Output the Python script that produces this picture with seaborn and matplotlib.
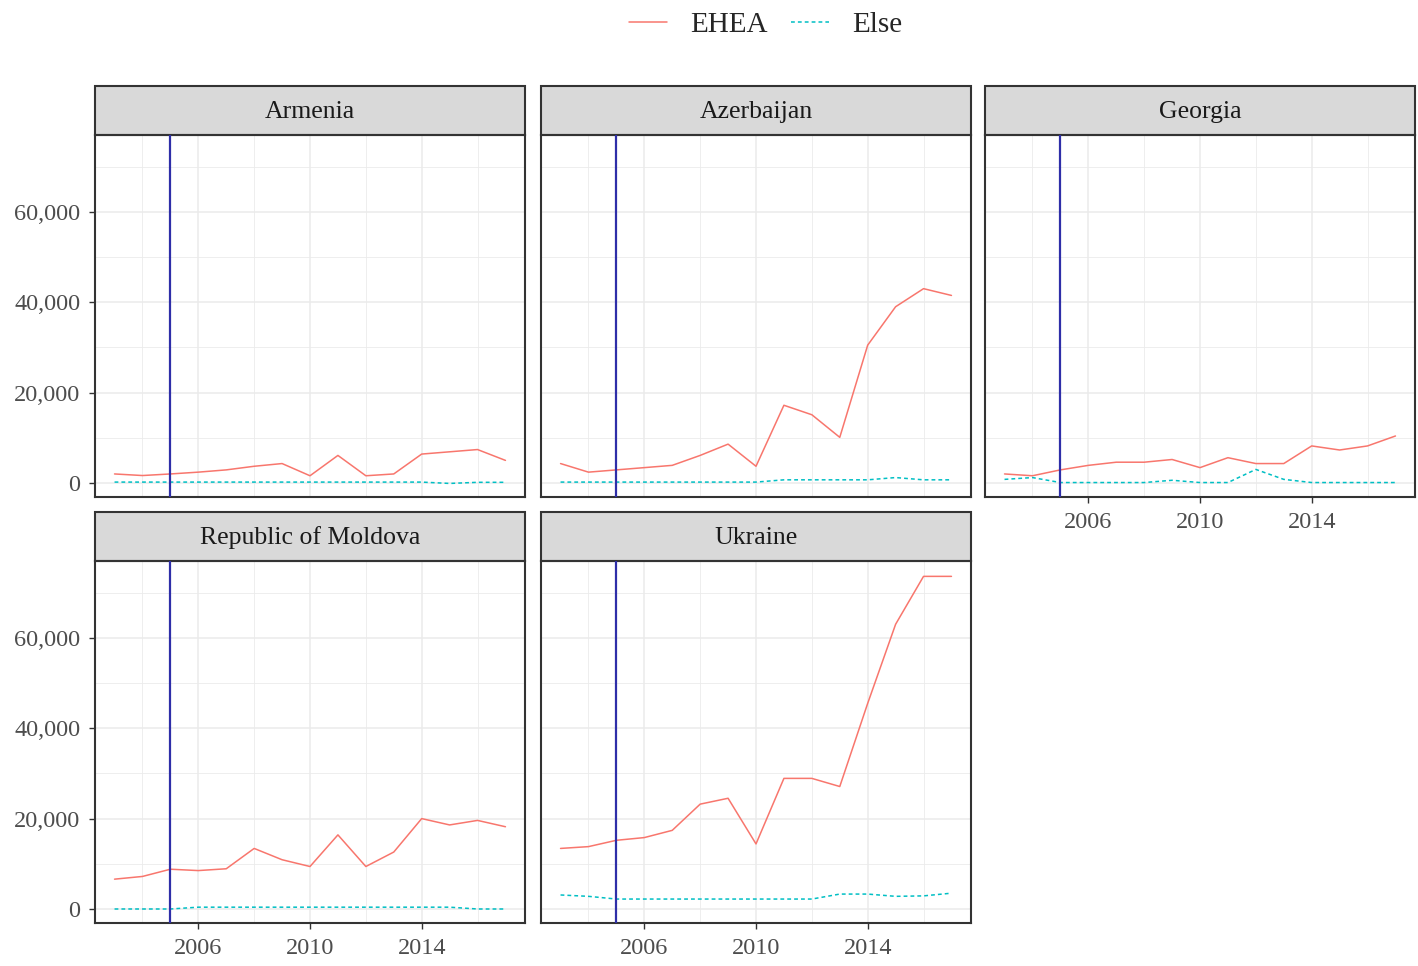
import numpy as np
import pandas as pd
import matplotlib.pyplot as plt
import seaborn as sb
from matplotlib.lines import Line2D
from matplotlib.patches import Rectangle
from matplotlib.ticker import FuncFormatter

years = list(range(2003, 2018))
countries = ["Armenia", "Azerbaijan", "Georgia", "Republic of Moldova", "Ukraine"]

# students abroad, EHEA destinations vs elsewhere
armenia_ehea = [2000, 1650, 2000, 2400, 2900, 3700, 4300, 1600, 6100, 1600, 2000, 6400, 6900, 7400, 5000]
armenia_else = [200, 200, 200, 200, 200, 200, 200, 200, 200, 200, 200, 200, -100, 150, 150]
azerbaijan_ehea = [4300, 2400, 2900, 3400, 3900, 6100, 8600, 3700, 17200, 15100, 10100, 30500, 39000, 43000, 41500]
azerbaijan_else = [200, 200, 200, 200, 200, 200, 200, 200, 700, 700, 700, 700, 1200, 700, 700]
georgia_ehea = [2000, 1600, 2900, 3900, 4600, 4600, 5200, 3400, 5600, 4300, 4300, 8200, 7300, 8200, 10400]
georgia_else = [800, 1200, 100, 100, 100, 100, 600, 100, 100, 3000, 800, 100, 100, 100, 100]
moldova_ehea = [6600, 7200, 8800, 8500, 8900, 13400, 10900, 9400, 16400, 9400, 12600, 20000, 18600, 19600, 18200]
moldova_else = [0, 0, 0, 400, 400, 400, 400, 400, 400, 400, 400, 400, 400, 0, 0]
ukraine_ehea = [13400, 13800, 15200, 15800, 17400, 23200, 24500, 14400, 28900, 28900, 27100, 45500, 63000, 73600, 73600]
ukraine_else = [3100, 2800, 2200, 2200, 2200, 2200, 2200, 2200, 2200, 2200, 3300, 3300, 2800, 2900, 3500]

ehea = [armenia_ehea, azerbaijan_ehea, georgia_ehea, moldova_ehea, ukraine_ehea]
other = [armenia_else, azerbaijan_else, georgia_else, moldova_else, ukraine_else]

rows = []
for c, e, o in zip(countries, ehea, other):
    for y, v1, v2 in zip(years, e, o):
        rows.append((c, y, "EHEA", v1))
        rows.append((c, y, "Else", v2))
df = pd.DataFrame(rows, columns=["country", "year", "type", "students"])

sb.set_theme(style="white")
plt.rcParams['font.family'] = ['Liberation Serif', 'DejaVu Serif']

red = "#F8766D"
cyan = "#00BFC4"
dark = "#333333"

g = sb.relplot(data=df, x="year", y="students", col="country", col_wrap=3,
               hue="type", style="type", kind="line", col_order=countries,
               palette={"EHEA": red, "Else": cyan},
               dashes={"EHEA": "", "Else": (2.5, 2)},
               linewidth=1.1, legend=False, height=3, aspect=1.2)
fig = g.figure
fig.set_size_inches(14.18, 9.66)
fig.set_dpi(100)

W, H = 1418, 966
col_x = [95, 541, 985]
row_bottom = [497, 923]
pw, ph = 430, 362
strip_h = 49 / ph

for i, ax in enumerate(g.axes.flat):
    r, c = divmod(i, 3)
    ax.set_position([col_x[c] / W, 1 - row_bottom[r] / H, pw / W, ph / H])
    ax.set_xlim(2002.3, 2017.7)
    ax.set_ylim(-3100, 77000)
    ax.set_xticks([2006, 2010, 2014])
    ax.set_xticks([2004, 2008, 2012, 2016], minor=True)
    ax.set_yticks([0, 20000, 40000, 60000])
    ax.set_yticks([10000, 30000, 50000, 70000], minor=True)
    ax.yaxis.set_major_formatter(FuncFormatter(lambda v, p: f"{int(v):,}"))
    ax.grid(True, which="major", color="#EBEBEB", linewidth=1.1)
    ax.grid(True, which="minor", color="#EBEBEB", linewidth=0.6)
    ax.set_axisbelow(True)
    ax.axvline(2005, color="#2E2EA8", linewidth=1.6, zorder=3)
    for s in ax.spines.values():
        s.set_color(dark)
        s.set_linewidth(1.5)
        s.set_visible(True)
    show_x = (r == 1) or (c == 2)
    show_y = (c == 0)
    ax.tick_params(which="major", length=4.5, width=1, color=dark,
                   labelsize=17.5, labelcolor="#4D4D4D", pad=6,
                   bottom=show_x, left=show_y,
                   labelbottom=show_x, labelleft=show_y)
    ax.tick_params(which="minor", length=0)
    ax.set_xlabel("")
    ax.set_ylabel("")
    ax.set_title("")
    # facet strip
    ax.add_patch(Rectangle((0, 1), 1, strip_h, transform=ax.transAxes,
                           facecolor="#D9D9D9", edgecolor=dark, linewidth=1.5,
                           clip_on=False))
    ax.text(0.5, 1 + strip_h / 2 - 0.004, countries[i], transform=ax.transAxes,
            ha="center", va="center", fontsize=18.5, color="#1A1A1A")

handles = [Line2D([], [], color=red, linewidth=1.1),
           Line2D([], [], color=cyan, linewidth=1.1, dashes=(2.5, 2))]
fig.legend(handles, ["EHEA", "Else"], loc="center", bbox_to_anchor=(0.54, 1 - 25 / H),
           ncol=2, frameon=False, fontsize=21, handlelength=1.3,
           columnspacing=0.8, handletextpad=0.8)

fig.savefig("out.png", dpi=100)
